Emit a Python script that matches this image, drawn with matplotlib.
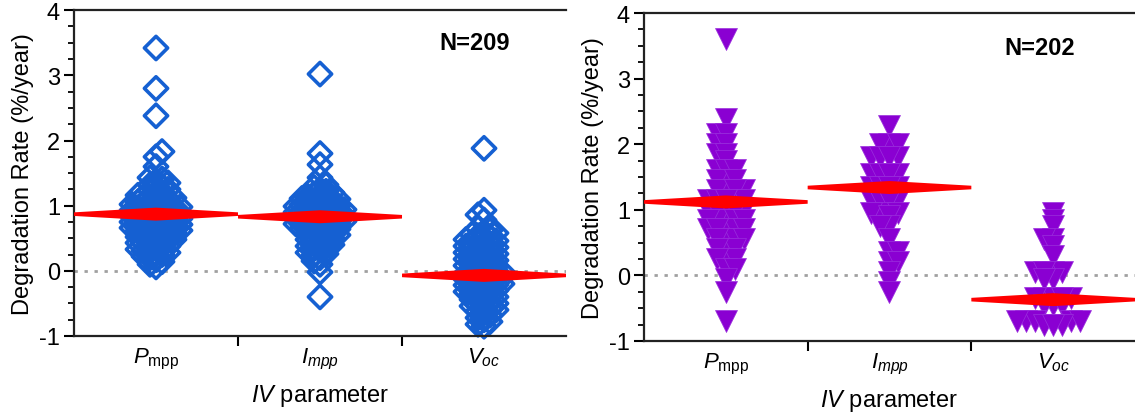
"""Degradation rates per IV parameter: two scatter panels with mean markers."""
import numpy as np
import matplotlib

matplotlib.use("Agg")
import matplotlib.pyplot as plt  # noqa: E402
from matplotlib.patches import Polygon  # noqa: E402
from matplotlib.ticker import FixedLocator, MultipleLocator  # noqa: E402

plt.rcParams["font.family"] = ["Liberation Sans", "DejaVu Sans"]
plt.rcParams["mathtext.fontset"] = "custom"
plt.rcParams["mathtext.rm"] = "Liberation Sans"
plt.rcParams["mathtext.it"] = "Liberation Sans:italic"
plt.rcParams["mathtext.bf"] = "Liberation Sans:bold"

categories = [r"$P_{\mathrm{mpp}}$", r"$I_{mpp}$", r"$V_{oc}$"]

# ---- left panel (N=209) ----
left_pmpp = [3.42, 2.80, 2.38, 1.83, 1.75, 1.60, 1.43,
             1.41, 1.38, 1.35, 1.32, 1.30, 1.28, 1.25, 1.23, 1.21, 1.18, 1.16,
             1.15, 1.13, 1.12, 1.10, 1.09, 1.08, 1.06, 1.05, 1.04, 1.02, 1.01,
             1.00, 0.99, 0.98, 0.97, 0.96, 0.95, 0.94, 0.93, 0.92, 0.91, 0.90,
             0.89, 0.88, 0.87, 0.86, 0.85, 0.84, 0.83, 0.82, 0.81, 0.80, 0.79,
             0.78, 0.77, 0.76, 0.75, 0.74, 0.73, 0.72, 0.71, 0.70, 0.69, 0.68,
             0.67, 0.66, 0.65, 0.64, 0.63, 0.62, 0.61, 0.60, 0.59, 0.58, 0.56,
             0.55, 0.54, 0.52, 0.51, 0.50, 0.48, 0.47, 0.46, 0.45, 0.43, 0.42,
             0.40, 0.38, 0.37, 0.35, 0.33, 0.31, 0.30, 0.28, 0.26, 0.25, 0.22,
             0.20, 0.17, 0.14, 0.10, 0.06]
left_impp = [3.02, 1.80, 1.63, 1.43, 1.32, 1.28, 1.25, 1.22, 1.20, 1.18, 1.16,
             1.14, 1.12, 1.11, 1.10, 1.08, 1.07, 1.05, 1.04, 1.03, 1.01, 1.00,
             0.99, 0.98, 0.97, 0.96, 0.95, 0.94, 0.93, 0.92, 0.91, 0.90, 0.89,
             0.88, 0.87, 0.86, 0.85, 0.84, 0.83, 0.82, 0.81, 0.80, 0.79, 0.78,
             0.77, 0.76, 0.75, 0.74, 0.73, 0.72, 0.71, 0.70, 0.69, 0.68, 0.66,
             0.65, 0.64, 0.62, 0.61, 0.60, 0.58, 0.57, 0.55, 0.53, 0.52, 0.50,
             0.48, 0.47, 0.44, 0.42, 0.40, 0.38, 0.36, 0.34, 0.32, 0.28, 0.26,
             0.24, 0.20, 0.15, 0.10, -0.02, -0.40]
left_voc = [1.88, 0.93, 0.86, 0.78, 0.65, 0.62, 0.60, 0.58, 0.56, 0.54, 0.52,
            0.50, 0.48, 0.46, 0.45, 0.43, 0.42, 0.40, 0.38, 0.36, 0.35, 0.33,
            0.32, 0.30, 0.28, 0.26, 0.25, 0.23, 0.22, 0.20, 0.18, 0.16, 0.15,
            0.13, 0.12, 0.10, 0.08, 0.07, 0.05, 0.03, 0.02, 0.00, -0.01, -0.02,
            -0.04, -0.05, -0.06, -0.08, -0.09, -0.10, -0.12, -0.13, -0.14,
            -0.16, -0.17, -0.18, -0.20, -0.21, -0.22, -0.24, -0.25, -0.27,
            -0.28, -0.30, -0.32, -0.33, -0.35, -0.36, -0.38, -0.40, -0.42,
            -0.44, -0.46, -0.48, -0.50, -0.52, -0.54, -0.56, -0.58, -0.60,
            -0.62, -0.65, -0.68, -0.72, -0.75, -0.78, -0.82, -0.85]
left_means = [0.87, 0.83, -0.07]

# ---- right panel (N=202) ----
right_pmpp = [3.60, 2.38, 2.15, 2.15, 2.00, 2.00, 1.85, 1.85, 1.75,
              1.60, 1.60, 1.60, 1.45, 1.45, 1.45, 1.30, 1.30, 1.30, 1.30,
              1.15, 1.15, 1.15, 1.15, 1.15, 1.00, 1.00, 1.00, 1.00, 1.00,
              0.85, 0.85, 0.85, 0.85, 0.85, 0.70, 0.70, 0.70, 0.70, 0.70,
              0.55, 0.55, 0.55, 0.55, 0.40, 0.40, 0.40, 0.25, 0.25, 0.25,
              0.10, 0.10, -0.05, -0.25, -0.70]
right_impp = [2.28, 2.00, 2.00, 2.00, 1.80, 1.80, 1.80, 1.80, 1.55, 1.55, 1.55,
              1.55, 1.35, 1.35, 1.35, 1.35, 1.15, 1.15, 1.15, 1.15, 0.95, 0.95,
              0.95, 0.90, 0.75, 0.75, 0.55, 0.35, 0.35, 0.20, 0.20, 0.05,
              -0.10, -0.25]
right_voc = [0.95, 0.85, 0.75, 0.55, 0.55, 0.45, 0.30, 0.05, 0.05, 0.05, 0.05,
             -0.05, -0.05, -0.35, -0.35, -0.35, -0.35, -0.35, -0.45, -0.45,
             -0.45, -0.70, -0.70, -0.70, -0.70, -0.70, -0.75, -0.75, -0.75]
right_means = [1.12, 1.34, -0.37]

panels = [
    dict(data=[left_pmpp, left_impp, left_voc], means=left_means, n="N=209",
         rect=[0.0652, 0.186, 0.4335, 0.787], marker="D", size=140,
         face="none", edge="#1560d2", lw=2.6, step=6.0, dy=5.5,
         ntext=(1.94, 3.51)),
    dict(data=[right_pmpp, right_impp, right_voc], means=right_means, n="N=202",
         rect=[0.5674, 0.174, 0.4326, 0.792], marker="v", size=250,
         face="#8a00d2", edge="#9a30dd", lw=0.5, step=9.0, dy=4.0,
         ntext=(1.92, 3.48)),
]


def swarm_offsets(ypix, step, dy):
    """Place points one by one as close to the centre as the others allow."""
    order = np.argsort(ypix)
    placed = []
    out = np.zeros(len(ypix))
    flip = 1
    for i in order:
        y = ypix[i]
        k = 0
        while True:
            cands = [0.0] if k == 0 else [flip * k * step, -flip * k * step]
            hit = None
            for c in cands:
                if all(abs(c - px) >= step * 0.99 or abs(y - py) >= dy
                       for px, py in placed):
                    hit = c
                    break
            if hit is not None:
                break
            k += 1
        flip = -flip
        placed.append((hit, y))
        out[i] = hit
    return out


fig = plt.figure(figsize=(11.35, 4.14), dpi=100)

for p in panels:
    ax = fig.add_axes(p["rect"])
    ax.set_xlim(-0.5, 2.5)
    ax.set_ylim(-1, 4)
    fig.canvas.draw()
    bbox = ax.get_window_extent()
    px_x = bbox.width / 3.0
    px_y = bbox.height / 5.0

    ax.axhline(0, color="#a0a0a0", lw=2.0, ls=(0, (1.2, 2.4)), zorder=1)

    for i, vals in enumerate(p["data"]):
        vals = np.asarray(vals, dtype=float)
        offs = swarm_offsets(vals * px_y, p["step"], p["dy"]) / px_x
        ax.scatter(i + offs, vals, s=p["size"], marker=p["marker"],
                   facecolors=p["face"], edgecolors=p["edge"],
                   linewidths=p["lw"], zorder=2, clip_on=False)

    # mean marker: thin lens across the whole category width
    c_half, e_half = 6.5 / px_y, 1.8 / px_y
    for i, m in enumerate(p["means"]):
        pts = [(i - 0.5, m - e_half), (i, m - c_half), (i + 0.5, m - e_half),
               (i + 0.5, m + e_half), (i, m + c_half), (i - 0.5, m + e_half)]
        ax.add_patch(Polygon(pts, closed=True, facecolor="#ff0000",
                             edgecolor="none", zorder=3))

    ax.text(*p["ntext"], p["n"], ha="center", va="center", fontsize=17,
            fontweight="bold")

    ax.spines["right"].set_visible(False)
    for side in ("left", "bottom", "top"):
        ax.spines[side].set_linewidth(1.6)
        ax.spines[side].set_color("#222222")

    ax.yaxis.set_major_locator(FixedLocator([-1, 0, 1, 2, 3, 4]))
    ax.yaxis.set_minor_locator(MultipleLocator(0.25))
    ax.set_yticklabels(["-1", "0", "1", "2", "3", "4"])
    ax.tick_params(axis="y", which="major", length=7, width=1.5, labelsize=17,
                   pad=3)
    ax.tick_params(axis="y", which="minor", length=4.5, width=1.3)

    ax.xaxis.set_major_locator(FixedLocator([0.5, 1.5]))
    ax.xaxis.set_minor_locator(FixedLocator([0, 1, 2]))
    ax.xaxis.set_major_formatter(plt.NullFormatter())
    ax.xaxis.set_minor_formatter(plt.FixedFormatter(categories))
    ax.tick_params(axis="x", which="major", length=7, width=1.5)
    ax.tick_params(axis="x", which="minor", length=0, labelsize=16, pad=7)

    ax.set_ylabel("Degradation Rate (%/year)", fontsize=17, labelpad=4)
    ax.set_xlabel(r"$IV$ parameter", fontsize=17, labelpad=8)

fig.savefig("out.png", dpi=100)
